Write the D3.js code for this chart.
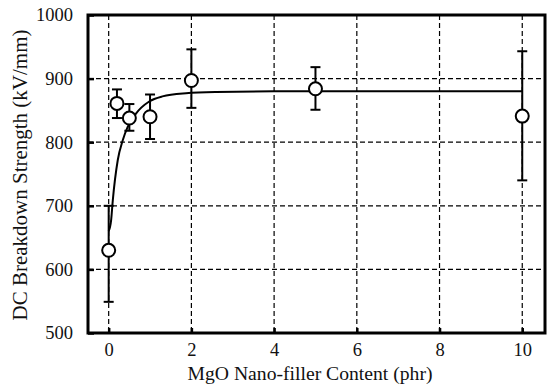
<!DOCTYPE html>
<html>
<head>
<meta charset="utf-8">
<script src="https://cdn.jsdelivr.net/npm/d3@7"></script>
<style>
  body { margin: 0; background: #fff; }
</style>
</head>
<body>
<div id="chart"></div>
<script>
// measured points (phr, kV/mm) with error bars
const content = [0, 0.2, 0.5, 1, 2, 5, 10];
const strength = [630, 861, 838, 840, 897, 884, 841];
const errLow = [549, 838, 818, 805, 854, 851, 740];
const errHigh = [700, 883, 860, 875, 946, 918, 943];

// fitted curve
const fitX = [0, 0.06, 0.1, 0.22, 0.34, 0.46, 0.66, 0.98, 1.3, 1.87, 2.6, 4, 6, 8, 10];
const fitY = [660, 678, 709, 772, 803, 824, 845, 864, 872, 877, 879, 880, 880, 880, 880];

const xTicks = [0, 2, 4, 6, 8, 10];
const yTicks = [500, 600, 700, 800, 900, 1000];

const serif = 'Liberation Serif';
const width = 548, height = 391;
const margin = { top: 15, right: 3, bottom: 58, left: 88 };

const svg = d3.select('#chart').append('svg')
  .attr('width', width)
  .attr('height', height)
  .attr('font-family', serif);

const x = d3.scaleLinear().domain([-0.5, 10.55]).range([margin.left, width - margin.right]);
const y = d3.scaleLinear().domain([500, 1000]).range([height - margin.bottom, margin.top]);

// dashed grid
svg.append('g').selectAll('line')
  .data(xTicks)
  .join('line')
  .attr('x1', d => x(d)).attr('x2', d => x(d))
  .attr('y1', y(1000)).attr('y2', y(500))
  .attr('stroke', '#000').attr('stroke-width', 1.2)
  .attr('stroke-dasharray', '5,3');

svg.append('g').selectAll('line')
  .data(yTicks.slice(1, -1))
  .join('line')
  .attr('x1', x.range()[0]).attr('x2', x.range()[1])
  .attr('y1', d => y(d)).attr('y2', d => y(d))
  .attr('stroke', '#000').attr('stroke-width', 1.2)
  .attr('stroke-dasharray', '5,3');

// axes: inward ticks, labels
const xAxis = svg.append('g')
  .attr('transform', `translate(0,${y(500)})`)
  .call(d3.axisBottom(x).tickValues(xTicks).tickFormat(d3.format('d')).tickSize(-5).tickPadding(10));
const yAxis = svg.append('g')
  .attr('transform', `translate(${x.range()[0]},0)`)
  .call(d3.axisLeft(y).tickValues(yTicks).tickFormat(d3.format('d')).tickSize(-6).tickPadding(15));

[xAxis, yAxis].forEach(g => {
  g.attr('font-family', serif).attr('font-size', 18.5);
  g.select('.domain').remove();
  g.selectAll('.tick line').attr('stroke', '#000').attr('stroke-width', 2.5);
  g.selectAll('.tick text').attr('fill', '#111');
});

// frame
svg.append('rect')
  .attr('x', x.range()[0]).attr('y', y(1000))
  .attr('width', x.range()[1] - x.range()[0])
  .attr('height', y(500) - y(1000))
  .attr('fill', 'none').attr('stroke', '#000').attr('stroke-width', 3);

// fit curve
const fitData = fitX.map((v, i) => [v, fitY[i]]);
svg.append('path')
  .datum(fitData)
  .attr('fill', 'none')
  .attr('stroke', '#000')
  .attr('stroke-width', 2)
  .attr('d', d3.line().x(d => x(d[0])).y(d => y(d[1])).curve(d3.curveMonotoneX));

// error bars
const pts = content.map((c, i) => ({ c, v: strength[i], lo: errLow[i], hi: errHigh[i] }));
const err = svg.append('g').attr('stroke', '#000').attr('stroke-width', 2);
err.selectAll('.bar').data(pts).join('line')
  .attr('x1', d => x(d.c)).attr('x2', d => x(d.c))
  .attr('y1', d => y(d.lo)).attr('y2', d => y(d.hi));
err.selectAll('.capl').data(pts).join('line')
  .attr('x1', d => x(d.c) - 5).attr('x2', d => x(d.c) + 5)
  .attr('y1', d => y(d.lo)).attr('y2', d => y(d.lo));
err.selectAll('.caph').data(pts).join('line')
  .attr('x1', d => x(d.c) - 5).attr('x2', d => x(d.c) + 5)
  .attr('y1', d => y(d.hi)).attr('y2', d => y(d.hi));

// markers
svg.append('g').selectAll('circle').data(pts).join('circle')
  .attr('cx', d => x(d.c)).attr('cy', d => y(d.v))
  .attr('r', 6.5)
  .attr('fill', '#fff').attr('stroke', '#000').attr('stroke-width', 2);

// titles
svg.append('text')
  .attr('x', 310).attr('y', 380)
  .attr('text-anchor', 'middle')
  .attr('font-size', 19.5)
  .attr('textLength', 245)
  .attr('lengthAdjust', 'spacingAndGlyphs')
  .attr('fill', '#111')
  .text('MgO Nano-filler Content (phr)');

svg.append('text')
  .attr('transform', 'translate(27,175) rotate(-90)')
  .attr('text-anchor', 'middle')
  .attr('font-size', 21)
  .attr('textLength', 291)
  .attr('lengthAdjust', 'spacingAndGlyphs')
  .attr('fill', '#111')
  .text('DC Breakdown Strength (kV/mm)');
</script>
</body>
</html>
